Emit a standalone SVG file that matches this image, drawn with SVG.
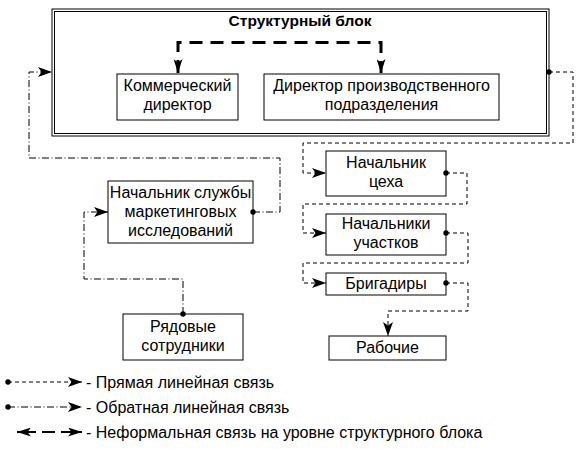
<svg xmlns="http://www.w3.org/2000/svg" width="588" height="449" viewBox="0 0 588 449">
<style>
  .box { fill: #fff; stroke: #000; stroke-width: 1; }
  text { font-family: "Liberation Sans", Arial, sans-serif; font-size: 16px; fill: #000; }
  .c { text-anchor: middle; }
  .title { font-weight: bold; font-size: 15.5px; }
  .direct { fill: none; stroke: #000; stroke-width: 1; stroke-dasharray: 4 3; }
  .back { fill: none; stroke: #000; stroke-width: 1; stroke-dasharray: 7 2.5 1 2.5; }
  .inf { fill: none; stroke: #000; stroke-width: 3; stroke-dasharray: 13 8; }
</style>
<defs>
  <marker id="arr" viewBox="0 0 14 10" refX="14" refY="5" markerWidth="14" markerHeight="10" markerUnits="userSpaceOnUse" orient="auto-start-reverse">
    <path d="M0,0 L14,5 L0,10 L3.5,5 z" fill="#000"/>
  </marker>
  <marker id="arrT" viewBox="0 0 14 9" refX="14" refY="4.5" markerWidth="14" markerHeight="9" markerUnits="userSpaceOnUse" orient="auto-start-reverse">
    <path d="M0,0 L14,4.5 L0,9 L3.5,4.5 z" fill="#000"/>
  </marker>
  <marker id="dot" viewBox="0 0 6 6" refX="3" refY="3" markerWidth="6" markerHeight="6" markerUnits="userSpaceOnUse">
    <circle cx="3" cy="3" r="2.7" fill="#000"/>
  </marker>
</defs>

<g id="block">
  <rect x="52" y="9" width="497" height="127" fill="#fff" stroke="#000" stroke-width="1"/>
  <rect x="54.5" y="11.5" width="492" height="122" fill="none" stroke="#000" stroke-width="1"/>
  <text class="c title" x="300" y="26">Структурный блок</text>
</g>

<g id="commercial">
  <rect class="box" x="117" y="74" width="121" height="46"/>
  <text class="c" x="177.5" y="91">Коммерческий</text>
  <text class="c" x="177.5" y="110">директор</text>
</g>
<g id="production">
  <rect class="box" x="264" y="74" width="235" height="46"/>
  <text class="c" x="381.5" y="91">Директор производственного</text>
  <text class="c" x="381.5" y="110">подразделения</text>
</g>
<g id="marketing">
  <rect class="box" x="108" y="181" width="145" height="62"/>
  <text class="c" x="180.5" y="198">Начальник службы</text>
  <text class="c" x="180.5" y="217">маркетинговых</text>
  <text class="c" x="180.5" y="236">исследований</text>
</g>
<g id="staff">
  <rect class="box" x="123" y="314" width="120" height="46"/>
  <text class="c" x="183" y="332">Рядовые</text>
  <text class="c" x="183" y="351">сотрудники</text>
</g>
<g id="shop">
  <rect class="box" x="326" y="151" width="120" height="45"/>
  <text class="c" x="386" y="168">Начальник</text>
  <text class="c" x="386" y="187">цеха</text>
</g>
<g id="sections">
  <rect class="box" x="326" y="214" width="120" height="41"/>
  <text class="c" x="386" y="229">Начальники</text>
  <text class="c" x="386" y="248">участков</text>
</g>
<g id="foremen">
  <rect class="box" x="326" y="273" width="120" height="22"/>
  <text class="c" x="386" y="289">Бригадиры</text>
</g>
<g id="workers">
  <rect class="box" x="329" y="336" width="117" height="24"/>
  <text class="c" x="387.5" y="353">Рабочие</text>
</g>

<g id="connectors">
  <path class="inf" d="M178,73 V42.5 H381 V73" marker-start="url(#arrT)" marker-end="url(#arrT)"/>
  <path class="back" d="M253,212 H280 V158 H29 V72 H52" marker-start="url(#dot)" marker-end="url(#arr)"/>
  <path class="back" d="M183,314 V279 H84 V212 H108" marker-start="url(#dot)" marker-end="url(#arr)"/>
  <path class="direct" d="M549,72 H573 V143 H303 V173 H326" marker-start="url(#dot)" marker-end="url(#arr)"/>
  <path class="direct" d="M446,173 H467 V204 H303 V233 H326" marker-start="url(#dot)" marker-end="url(#arr)"/>
  <path class="direct" d="M446,233 H468 V263 H303 V283 H326" marker-start="url(#dot)" marker-end="url(#arr)"/>
  <path class="direct" d="M446,283 H468 V311 H388 V336" marker-start="url(#dot)" marker-end="url(#arr)"/>
</g>

<g id="legend">
  <path class="direct" d="M8,382 H82" marker-start="url(#dot)" marker-end="url(#arr)"/>
  <text x="86" y="388">- Прямая линейная связь</text>
  <path class="back" d="M8,407 H82" marker-start="url(#dot)" marker-end="url(#arr)"/>
  <text x="86" y="413">- Обратная линейная связь</text>
  <path fill="none" stroke="#000" stroke-width="2" d="M36,432 H17" marker-end="url(#arrT)"/>
  <path fill="none" stroke="#000" stroke-width="2" d="M42,432 H55"/>
  <path fill="none" stroke="#000" stroke-width="2" d="M61,432 H82" marker-end="url(#arrT)"/>
  <text x="86" y="438">- Неформальная связь на уровне структурного блока</text>
</g>
</svg>
